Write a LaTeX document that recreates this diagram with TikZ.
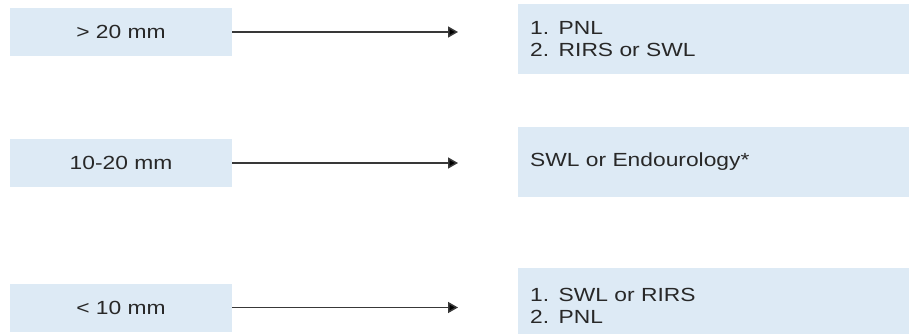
\documentclass[tikz,border=0pt]{standalone}
\usepackage{fontspec}
\setmainfont{Liberation Sans}[FakeStretch=1.2]
\usetikzlibrary{arrows.meta}
\definecolor{boxblue}{HTML}{DDEAF5}
\definecolor{txt}{HTML}{282828}
\definecolor{arr}{HTML}{383838}
\begin{document}
\begin{tikzpicture}[x=1pt,y=-1pt,
  sizebox/.style={fill=boxblue,draw=none,minimum width=222pt,minimum height=48pt,
    inner sep=0pt,text=txt,font=\fontsize{19}{22}\selectfont},
  treatbox/.style={fill=boxblue,draw=none,anchor=west,minimum width=400pt,
    inner xsep=12pt,inner ysep=0pt,text width=376pt,align=left,text=txt,
    font=\fontsize{19}{22.5}\selectfont},
  conn/.style={draw=arr,line width=1.5pt,-{Triangle[length=10pt,width=11pt,fill=black]},shorten >=60pt}]
\useasboundingbox (0,0) rectangle (909,334);
\fill[white] (0,0) rectangle (909,334);
% left boxes
\node[sizebox] (L1) at (121,32) {> 20 mm};
\node[sizebox] (L2) at (121,163) {10-20 mm};
\node[sizebox] (L3) at (121,307.5) {< 10 mm};
% right boxes
\node[treatbox,minimum height=70pt] (R1) at (518,39) {1. PNL\\2. RIRS or SWL};
\node[treatbox,minimum height=70pt] (R2) at (518,162) {SWL or Endourology*};
\node[treatbox,minimum height=76pt] (R3) at (518,306) {1. SWL or RIRS\\2. PNL};
% arrows
\draw[conn] (L1.east) -- (L1.east -| R1.west);
\draw[conn] (L2.east) -- (L2.east -| R2.west);
\draw[conn] (L3.east) -- (L3.east -| R3.west);
\end{tikzpicture}
\end{document}
